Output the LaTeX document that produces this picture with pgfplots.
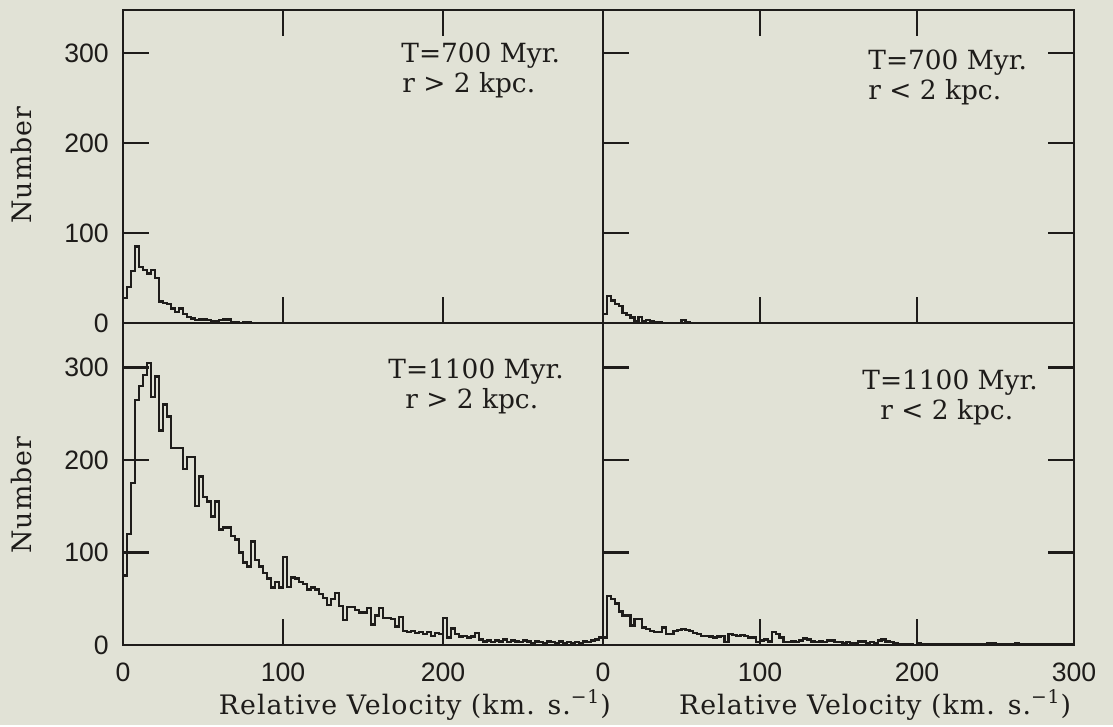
\documentclass[border=0pt]{standalone}
\usepackage{pgfplots}
\pgfplotsset{compat=1.18}
\usepackage{pgfplotstable}
\usepackage{fontspec}
\setmainfont{DejaVu Serif}
\newfontfamily\ticksf{Liberation Sans}
\newfontfamily\labelfont[LetterSpace=4]{DejaVu Serif}
\newcommand\lblfont{\labelfont\fontsize{13.4}{15}\selectfont}
\definecolor{bg}{RGB}{225,226,214}
\definecolor{ink}{RGB}{30,28,26}

\pgfplotstableread{
v n
0 28
2.5 40
5 58
7.5 85
10 62
12.5 59
15 55
17.5 59
20 50
22.5 24
25 22
27.5 21
30 16
32.5 12
35 16
37.5 10
40 7
42.5 5
45 3
47.5 4
50 4
52.5 3
55 2
57.5 2
60 3
62.5 4
65 4
67.5 1
70 1
72.5 0
75 1
77.5 1
80 0
300 0
}\tabTL

\pgfplotstableread{
v n
0 10
2.5 30
5 25
7.5 21
10 19
12.5 11
15 9
17.5 6
20 2
22.5 7
25 2
27.5 3
30 2
32.5 1
35 1
37.5 0
50 3
52.5 1
55 0
300 0
}\tabTR

\pgfplotstableread{
v n
0 75
2.5 120
5 175
7.5 265
10 280
12.5 292
15 305
17.5 268
20 290
22.5 232
25 260
27.5 247
30 213
32.5 213
35 213
37.5 190
40 203
42.5 203
45 150
47.5 182
50 160
52.5 155
55 139
57.5 155
60 125
62.5 127
65 127
67.5 118
70 114
72.5 100
75 89
77.5 85
80 112
82.5 92
85 85
87.5 78
90 72
92.5 62
95 68
97.5 62
100 95
102.5 63
105 73
107.5 72
110 68
112.5 66
115 60
117.5 62
120 60
122.5 55
125 51
127.5 43
130 50
132.5 56
135 42
137.5 27
140 41
142.5 41
145 38
147.5 35
150 35
152.5 40
155 22
157.5 32
160 40
162.5 29
165 29
167.5 28
170 20
172.5 30
175 15
177.5 14
180 15
182.5 13
185 14
187.5 12
190 14
192.5 10
195 13
197.5 12
200 29
202.5 8
205 18
207.5 12
210 9
212.5 10
215 8
217.5 9
220 13
222.5 6
225 4
227.5 5
230 3
232.5 5
235 4
237.5 6
240 3
242.5 5
245 4
247.5 3
250 5
252.5 4
255 2
257.5 4
260 3
262.5 2
265 4
267.5 3
270 2
272.5 4
275 2
277.5 3
280 2
282.5 3
285 2
287.5 4
290 3
292.5 5
295 6
297.5 8
300 8
}\tabBL

\pgfplotstableread{
v n
0 8
2.5 53
5 50
7.5 45
10 36
12.5 32
15 32
17.5 21
20 28
22.5 28
25 19
27.5 17
30 15
32.5 14
35 14
37.5 19
40 12
42.5 12
45 15
47.5 16
50 17
52.5 16
55 15
57.5 13
60 12
62.5 10
65 10
67.5 9
70 8
72.5 9
75 10
77.5 3
80 12
82.5 11
85 10
87.5 11
90 10
92.5 8
95 8
97.5 3
100 5
102.5 6
105 4
107.5 14
110 12
112.5 8
115 3
117.5 3
120 4
122.5 3
125 5
127.5 7
130 6
132.5 4
135 3
137.5 4
140 3
142.5 5
145 5
147.5 3
150 3
152.5 2
155 3
157.5 2
160 2
162.5 4
165 4
167.5 2
170 3
172.5 2
175 5
177.5 6
180 4
182.5 3
185 2
187.5 1
190 1
195 1
197.5 0
200 2
202.5 1
207.5 1
210 1
245 2
250 1
262.5 2
265 1
297.5 1
300 1
}\tabBR

\pgfplotsset{
  panel/.style={
    scale only axis, anchor=south west,
    xmin=0, xmax=300, ymin=0, ymax=348,
    tick align=inside, major tick length=13pt,
    axis line style={draw=ink, line width=1.3pt},
    every tick/.style={draw=ink, line width=1.3pt},
    tick label style={font=\ticksf\fontsize{13.3}{15}\selectfont, text=ink},
    /pgf/number format/assume math mode=true,
    xticklabel style={yshift=-5.5pt},
    yticklabel style={xshift=-3.6pt},
    minor tick num=0,
  },
  hist/.style={const plot, draw=ink, line width=1.2pt, mark=none},
}

\begin{document}
\begin{tikzpicture}
\path[fill=bg] (0,0) rectangle (556.5pt,-362.5pt);

% top left
\begin{axis}[panel, at={(61.5pt,-161.5pt)}, width=240pt, height=156.5pt,
  xtick={100,200}, xticklabels={}, xtick pos=both,
  ytick={0,100,200,300}, ytick pos=left,
  ylabel={Number},
  every axis y label/.style={at={(axis description cs:-0.2104,0.505)}, rotate=90, anchor=center, font=\lblfont, text=ink}]
\addplot[hist] table[x=v,y=n]{\tabTL};
\end{axis}

% top right
\begin{axis}[panel, at={(301.5pt,-161.5pt)}, width=235.5pt, height=156.5pt,
  xtick={100,200}, xticklabels={}, xtick pos=both,
  ytick={100,200,300}, yticklabels={}, ytick pos=both]
\addplot[hist] table[x=v,y=n]{\tabTR};
\end{axis}

% bottom left
\begin{axis}[panel, at={(61.5pt,-322.5pt)}, width=240pt, height=161pt,
  xtick={0,100,200}, xtick pos=left,
  ytick={0,100,200,300}, ytick pos=left,
  ylabel={Number},
  every axis y label/.style={at={(axis description cs:-0.2104,0.466)}, rotate=90, anchor=center, font=\lblfont, text=ink},
  xlabel={Relative Velocity (km. s.\textsuperscript{−1})},
  every axis x label/.style={at={(axis description cs:0.608,-0.2143)}, anchor=base, font=\lblfont, text=ink}]
\addplot[hist] table[x=v,y=n]{\tabBL};
\end{axis}

% bottom right
\begin{axis}[panel, at={(301.5pt,-322.5pt)}, width=235.5pt, height=161pt,
  xtick={0,100,200,300}, xtick pos=left,
  ytick={100,200,300}, yticklabels={}, ytick pos=both,
  xlabel={Relative Velocity (km. s.\textsuperscript{−1})},
  every axis x label/.style={at={(axis description cs:0.5775,-0.2143)}, anchor=base, font=\lblfont, text=ink}]
\addplot[hist] table[x=v,y=n]{\tabBR};
\end{axis}

\begin{scope}[every node/.style={anchor=base west, inner sep=0pt, text=ink, font=\fontsize{13.2}{15}\selectfont}]
\node at (200.5pt,-31.5pt) {T=700 Myr.};
\node at (201pt,-46.5pt) {r > 2 kpc.};
\node at (434pt,-35pt) {T=700 Myr.};
\node at (434pt,-50pt) {r < 2 kpc.};
\node at (194pt,-189.5pt) {T=1100 Myr.};
\node at (202.5pt,-204.5pt) {r > 2 kpc.};
\node at (431pt,-195pt) {T=1100 Myr.};
\node at (440pt,-210pt) {r < 2 kpc.};
\end{scope}
\end{tikzpicture}
\end{document}
